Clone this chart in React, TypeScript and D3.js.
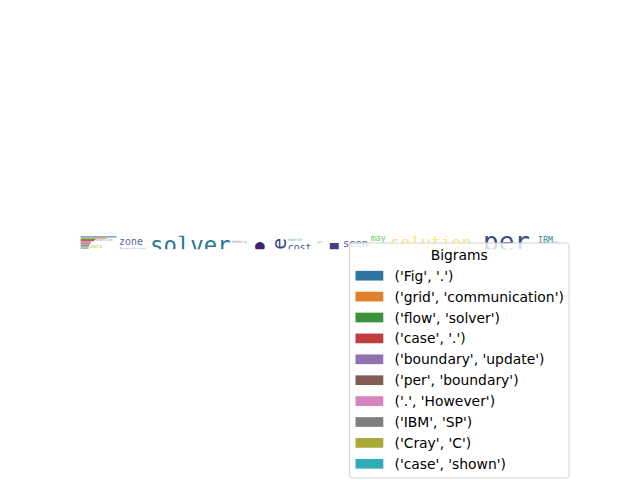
import React from "react";
import * as d3 from "d3";

// Bigram counts (horizontal bars, drawn over the word-cloud image)
const bigrams = [
  "('Fig', '.')",
  "('grid', 'communication')",
  "('flow', 'solver')",
  "('case', '.')",
  "('boundary', 'update')",
  "('per', 'boundary')",
  "('.', 'However')",
  "('IBM', 'SP')",
  "('Cray', 'C')",
  "('case', 'shown')",
];
const counts = [29, 21, 12, 11, 8.5, 8, 7.5, 7, 6.5, 6.5];

// Word cloud words visible in the strip (image pixel units)
const words = ["american", "data", "zone", "function", "solver", "memory", "●", "e", "search", "cost", "set", "■", "seen", "may", "solution", "per", "IBM", "SP"];
const wordX = [12.4, 7.6, 31, 31, 56, 122, 140.6, 160, 167, 167, 190.6, 201, 211.6, 234, 249.5, 324.5, 368.9, 381];
const wordY = [3.3, 8.9, 6.5, 11.2, 13, 4.5, 11.2, 5.6, 3.3, 11.3, 4.9, 11.4, 8.2, 3.3, 9.4, 11.2, 5.3, 5.5];
const wordSize = [2.8, 4, 8, 4.5, 18, 3.4, 13, 16, 3.2, 8, 2.8, 12, 8.4, 6.7, 13.7, 21, 6.7, 3];
const wordColor = ["#a89cc8", "#a0da39", "#5763a0", "#9a9cc8", "#2a788e", "#a48fc8", "#45206f", "#414487", "#4cc26c", "#3b528b", "#7ad151", "#433e85", "#4f5d9d", "#6ccd5a", "#f2ea80", "#3f4788", "#2c8c8c", "#7fa7c0"];
const wordRot = [0, 0, 0, 0, 0, 0, 0, -90, 0, 0, 0, 0, 0, 0, 0, 0, 0, 0];

const colors = [
  "#3274a1", "#e1812c", "#3a923a", "#c03d3e", "#9372b2",
  "#845b53", "#d684bd", "#7f7f7f", "#a9aa35", "#2eaab8",
];

export default function App() {
  const W = 640, H = 480;
  const x = d3.scaleLinear().domain([-0.5, 399.5]).range([80, 576]);
  const y = d3.scaleLinear().domain([-0.89, 9.89]).range([235.8, 249.2]);
  const k = (x(1) - x(0));

  const legendX = 349.5, legendY = 243, legendW = 219.5, legendH = 235;
  const fs = 13.89;

  return (
    <svg width={W} height={H} style={{ position: "fixed", left: 0, top: 0, background: "#fff" }}
      fontFamily="'DejaVu Sans', sans-serif">
      <defs>
        <clipPath id="imgclip">
          <rect x={x(-0.5)} y={y(-0.89)} width={x(399.5) - x(-0.5)} height={y(9.89) - y(-0.89)} />
        </clipPath>
      </defs>
      <g clipPath="url(#imgclip)" fontFamily="'DejaVu Sans Mono', monospace">
        {words.map((w, i) =>
          wordRot[i] !== 0 ? (
            <text key={i} transform={`translate(${x(wordX[i])},${y(wordY[i])}) rotate(${wordRot[i]})`}
              textAnchor="middle" dominantBaseline="central" fontSize={wordSize[i] * k} fill={wordColor[i]}>{w}</text>
          ) : (
            <text key={i} x={x(wordX[i])} y={y(wordY[i])} fontSize={wordSize[i] * k} fill={wordColor[i]}>{w}</text>
          )
        )}
      </g>
      <g>
        {counts.map((c, i) => (
          <rect key={i} x={x(0)} y={y(i - 0.4)} width={x(c) - x(0)} height={y(i + 0.4) - y(i - 0.4)} fill={colors[i]} />
        ))}
      </g>
      <g>
        <rect x={legendX} y={legendY} width={legendW} height={legendH} rx={3} fill="#fff" fillOpacity={0.8} stroke="#d3d3d3" strokeWidth={1} />
        <text x={legendX + legendW / 2} y={260} textAnchor="middle" fontSize={fs} fill="#000">Bigrams</text>
        {bigrams.map((b, i) => {
          const cy = 275.7 + i * 20.9;
          return (
            <g key={i}>
              <rect x={355.5} y={cy - 4.85} width={27.8} height={9.7} fill={colors[i]} />
              <text x={394.5} y={cy + 5} fontSize={fs} fill="#000">{b}</text>
            </g>
          );
        })}
      </g>
    </svg>
  );
}
